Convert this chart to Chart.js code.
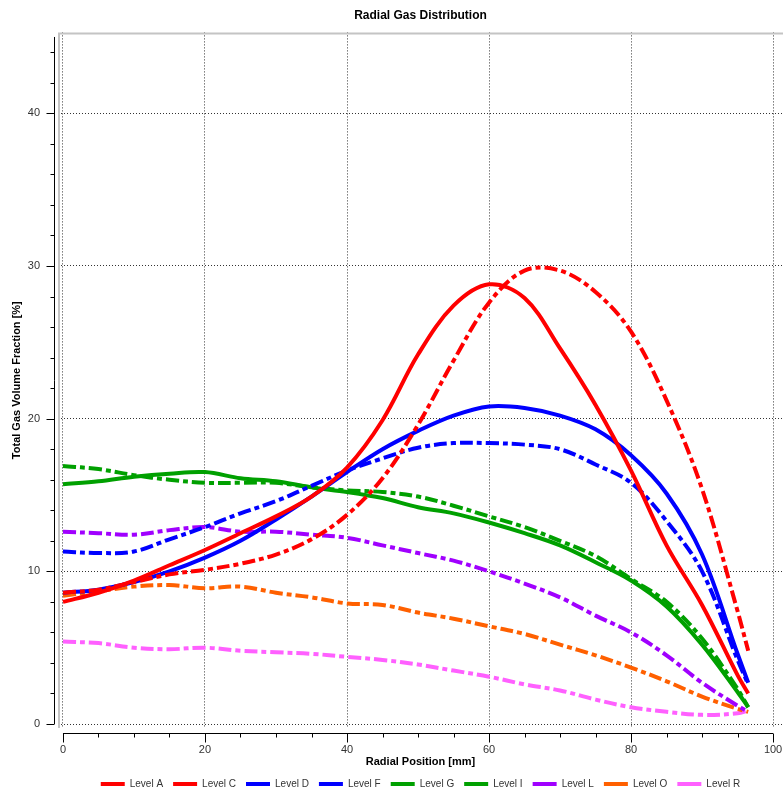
<!DOCTYPE html>
<html>
<head>
<meta charset="utf-8">
<title>Radial Gas Distribution</title>
<script src="https://cdn.jsdelivr.net/npm/chart.js@4.4.1/dist/chart.umd.min.js"></script>
<style>
    html, body { margin: 0; padding: 0; background: #fff; }
    #wrap { width: 783px; height: 793px; }
</style>
</head>
<body>
<div id="wrap"><canvas id="gasChart" width="783" height="793"></canvas></div>
<script>
// radial positions [mm] shared by every level
const radialPos = [0, 5, 10, 15, 20, 25, 30, 35, 40, 45, 50, 55, 60, 65, 70, 75, 80, 85, 90, 95, 96.5];

// total gas volume fraction [%] per level
const levelA = [8.0, 8.6, 9.4, 10.4, 11.4, 12.5, 13.6, 14.9, 16.8, 19.9, 24.2, 27.4, 28.8, 27.9, 24.6, 20.9, 16.6, 11.7, 7.8, 3.2, 2.0];
const levelC = [8.6, 8.8, 9.3, 9.8, 10.1, 10.5, 11.1, 12.1, 13.7, 16.1, 19.6, 23.8, 27.6, 29.7, 29.7, 28.3, 25.7, 21.2, 15.4, 7.4, 4.8];
const levelD = [8.6, 8.8, 9.3, 10.0, 10.9, 12.0, 13.4, 14.9, 16.5, 18.0, 19.2, 20.2, 20.8, 20.7, 20.2, 19.3, 17.6, 15.1, 11.1, 4.6, 2.7];
const levelF = [11.3, 11.2, 11.3, 12.1, 12.9, 13.8, 14.6, 15.6, 16.6, 17.4, 18.1, 18.4, 18.4, 18.3, 18.0, 17.0, 15.8, 13.3, 10.0, 4.2, 2.6];
const levelG = [15.7, 15.9, 16.2, 16.4, 16.5, 16.1, 15.9, 15.5, 15.2, 14.8, 14.2, 13.8, 13.2, 12.5, 11.7, 10.6, 9.4, 7.7, 5.2, 2.1, 1.1];
const levelI = [16.9, 16.7, 16.3, 16.0, 15.8, 15.8, 15.8, 15.5, 15.3, 15.2, 14.9, 14.3, 13.6, 12.9, 12.0, 11.0, 9.5, 8.0, 5.6, 2.3, 1.1];
const levelL = [12.6, 12.5, 12.4, 12.7, 12.9, 12.6, 12.6, 12.4, 12.2, 11.7, 11.2, 10.7, 10.0, 9.2, 8.3, 7.1, 6.0, 4.5, 2.7, 1.2, 0.8];
const levelO = [8.4, 8.7, 9.0, 9.1, 8.9, 9.0, 8.6, 8.3, 7.9, 7.8, 7.3, 6.9, 6.4, 5.9, 5.2, 4.5, 3.7, 2.8, 1.8, 1.0, 0.8];
const levelR = [5.4, 5.3, 5.0, 4.9, 5.0, 4.8, 4.7, 4.6, 4.4, 4.2, 3.9, 3.5, 3.1, 2.6, 2.2, 1.6, 1.1, 0.8, 0.6, 0.7, 0.9];

const levelNames = ['Level A', 'Level C', 'Level D', 'Level F', 'Level G', 'Level I', 'Level L', 'Level O', 'Level R'];
const levelValues = [levelA, levelC, levelD, levelF, levelG, levelI, levelL, levelO, levelR];
const levelColors = ['#ff0000', '#ff0000', '#0000ff', '#0000ff', '#00a000', '#00a000', '#a000ff', '#ff6000', '#ff60ff'];
const levelDashed = [false, true, false, true, false, true, true, true, true];

// axis labels
const xTicks = [0, 20, 40, 60, 80, 100];
const yTicks = [0, 10, 20, 30, 40];

const FONT = '"Liberation Sans", Arial, sans-serif';
const DASH = [13, 4, 5, 4];

// offset axis lines with minor ticks + grey plot frame
const axisLines = {
    id: 'axisLines',
    afterDraw(chart) {
        const { ctx, chartArea, scales: { x, y } } = chart;
        ctx.save();

        ctx.strokeStyle = '#c4c4c4';
        ctx.lineWidth = 2;
        ctx.beginPath();
        ctx.moveTo(chartArea.left + 1, chartArea.bottom);
        ctx.lineTo(chartArea.left + 1, chartArea.top + 1);
        ctx.lineTo(chartArea.right, chartArea.top + 1);
        ctx.stroke();

        ctx.strokeStyle = '#000';
        ctx.lineWidth = 1;

        // y axis
        const ax = Math.round(chartArea.left) - 3.5;
        ctx.beginPath();
        ctx.moveTo(ax, y.getPixelForValue(0));
        ctx.lineTo(ax, y.getPixelForValue(45));
        for (let v = 0; v <= 44; v += 2) {
            const py = Math.round(y.getPixelForValue(v)) + 0.5;
            ctx.moveTo(ax, py);
            ctx.lineTo(ax - (v % 10 === 0 ? 8 : 4), py);
        }
        ctx.stroke();

        // x axis
        const ay = Math.round(chartArea.bottom) + 5.5;
        ctx.beginPath();
        ctx.moveTo(x.getPixelForValue(0), ay);
        ctx.lineTo(x.getPixelForValue(100), ay);
        for (let v = 0; v <= 100; v += 5) {
            const px = Math.round(x.getPixelForValue(v)) + 0.5;
            ctx.moveTo(px, ay);
            ctx.lineTo(px, ay + (v % 20 === 0 ? 9 : 4));
        }
        ctx.stroke();

        ctx.restore();
    }
};

const datasets = levelNames.map((name, i) => ({
    label: name,
    data: radialPos.map((r, k) => ({ x: r, y: levelValues[i][k] })),
    borderColor: levelColors[i],
    backgroundColor: levelColors[i],
    borderWidth: 4,
    borderDash: levelDashed[i] ? DASH : [],
    pointRadius: 0,
    tension: 0.35,
    fill: false
}));

new Chart(document.getElementById('gasChart'), {
    type: 'line',
    data: { datasets: datasets },
    plugins: [axisLines],
    options: {
        responsive: false,
        animation: false,
        layout: { padding: { left: 0, right: 0, top: 0, bottom: -6 } },
        plugins: {
            title: {
                display: true,
                fullSize: false,
                text: 'Radial Gas Distribution',
                color: '#000',
                font: { family: FONT, size: 12, weight: 'bold' },
                padding: { top: 8, bottom: 10 }
            },
            legend: {
                position: 'bottom',
                fullSize: false,
                labels: {
                    boxWidth: 24,
                    boxHeight: 4,
                    padding: 10,
                    color: '#333',
                    font: { family: FONT, size: 10 },
                    generateLabels: chart => chart.data.datasets.map((ds, i) => ({
                        text: ds.label,
                        fillStyle: ds.borderColor,
                        strokeStyle: ds.borderColor,
                        lineWidth: 0,
                        lineDash: [],
                        hidden: false,
                        datasetIndex: i,
                        fontColor: '#333'
                    }))
                }
            },
            tooltip: { enabled: false }
        },
        scales: {
            x: {
                type: 'linear',
                min: -0.7,
                max: 101.4,
                afterBuildTicks: scale => { scale.ticks = xTicks.map(v => ({ value: v })); },
                afterFit: scale => { scale.height = 41; scale.paddingLeft = 0; scale.paddingRight = 0; },
                ticks: {
                    color: '#333',
                    padding: 15,
                    maxRotation: 0,
                    font: { family: FONT, size: 11 }
                },
                grid: { color: '#333', drawTicks: false, lineWidth: 1 },
                border: { display: false, dash: [1, 2] },
                title: {
                    display: true,
                    text: 'Radial Position [mm]',
                    color: '#000',
                    font: { family: FONT, size: 11, weight: 'bold' },
                    padding: { top: 0, bottom: 0 }
                }
            },
            y: {
                min: -0.26,
                max: 45.3,
                afterBuildTicks: scale => { scale.ticks = yTicks.map(v => ({ value: v })); },
                afterFit: scale => { scale.width = 58; scale.paddingTop = 0; scale.paddingBottom = 0; },
                ticks: {
                    color: '#333',
                    padding: 18,
                    font: { family: FONT, size: 11 }
                },
                grid: { color: '#333', drawTicks: false, lineWidth: 1 },
                border: { display: false, dash: [1, 2] },
                title: {
                    display: true,
                    text: 'Total Gas Volume Fraction [%]',
                    color: '#000',
                    font: { family: FONT, size: 11, weight: 'bold' },
                    padding: { top: 10, bottom: 0 }
                }
            }
        }
    }
});
</script>
</body>
</html>
